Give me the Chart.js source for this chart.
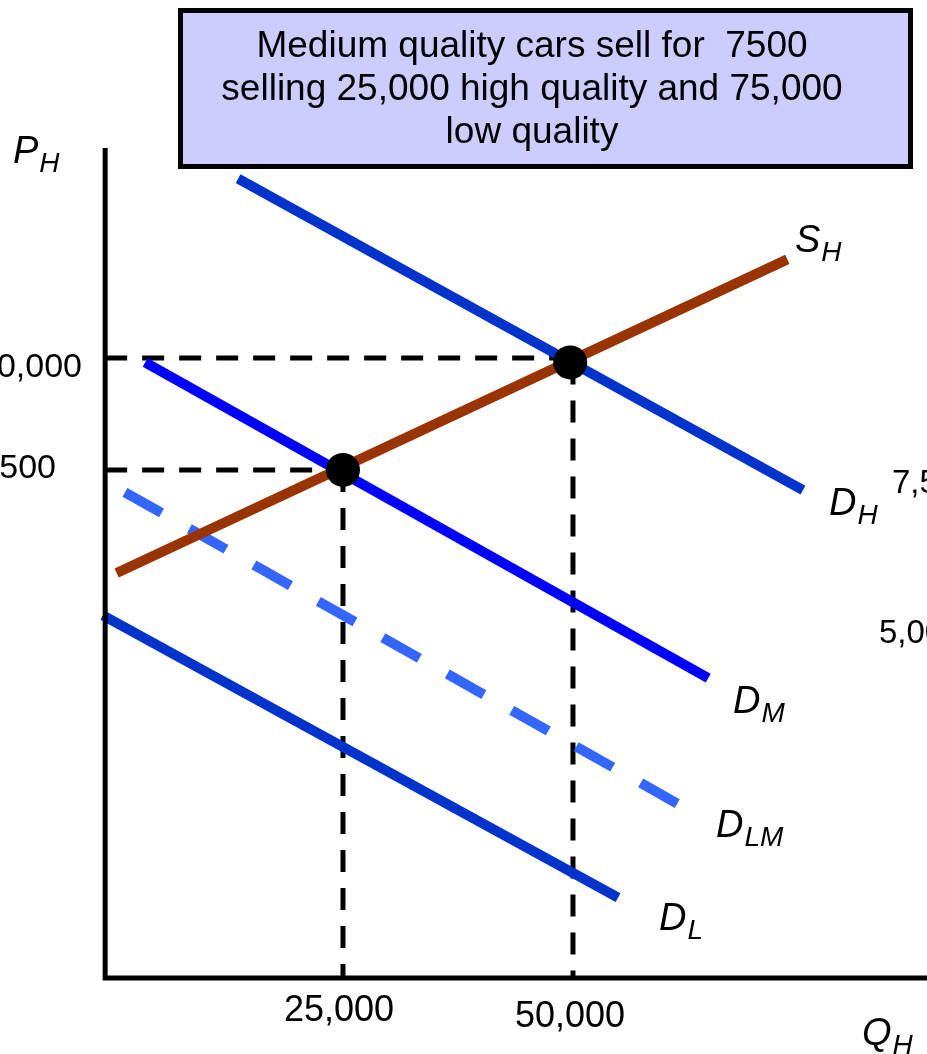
<!DOCTYPE html>
<html lang="en">
<head>
    <meta charset="UTF-8">
    <title>Medium quality cars</title>
    <script src="https://cdn.jsdelivr.net/npm/chart.js"></script>
    <style>
        body { margin: 0; background: #fff; }
    </style>
</head>
<body>
    <canvas id="marketChart" width="927" height="1054"></canvas>

    <script>
        // quantity and price in thousands
        const curveNames = ['D_H', 'S_H', 'D_M', 'D_LM', 'D_L'];
        const curveQ = [
            [13.6, 75.0],   // D_H
            [0.4, 73.3],    // S_H
            [3.5, 64.7],    // D_M
            [1.3, 62.2],    // D_LM
            [-1.1, 54.9]    // D_L
        ];
        const curveP = [
            [14.0, 7.05],
            [5.2, 12.2],
            [9.9, 2.85],
            [7.0, -0.05],
            [4.25, -2.05]
        ];
        const curveColors = ['#0033cc', '#993300', '#0000ff', '#3366ff', '#0033cc'];

        const eqQ = [25, 49.7];
        const eqP = [7.5, 9.9];

        const xTickValues = [25, 50];
        const xTickLabels = ['25,000', '50,000'];
        const yTickValues = [7.5, 10];
        const yTickLabels = ['7,500', '10,000'];

        const titleLines = [
            'Medium quality cars sell for  7500',
            'selling 25,000 high quality and 75,000',
            'low quality'
        ];

        const axisQ = -0.85;   // where the price axis sits
        const axisP = -3.8;    // where the quantity axis sits

        const datasets = [];
        curveNames.forEach((name, i) => {
            datasets.push({
                label: name,
                data: curveQ[i].map((q, j) => ({ x: q, y: curveP[i][j] })),
                showLine: true,
                borderColor: curveColors[i],
                borderWidth: 10,
                borderDash: name === 'D_LM' ? [42, 32] : [],
                pointRadius: 0,
                order: 2
            });
        });
        // dashed guide lines from each equilibrium to the axes
        eqQ.forEach((q, i) => {
            datasets.push({
                label: 'guide' + i,
                data: [{ x: axisQ, y: yTickValues[i] }, { x: q, y: yTickValues[i] }],
                showLine: true, borderColor: '#000', borderWidth: 5,
                borderDash: [22, 15], pointRadius: 0, order: 3
            });
            datasets.push({
                label: 'guideV' + i,
                data: [{ x: xTickValues[i], y: eqP[i] }, { x: xTickValues[i], y: axisP }],
                showLine: true, borderColor: '#000', borderWidth: 5,
                borderDash: [22, 16], pointRadius: 0, order: 3
            });
        });
        datasets.push({
            label: 'equilibria',
            data: eqQ.map((q, i) => ({ x: q, y: eqP[i] })),
            showLine: false,
            pointRadius: 17,
            pointBackgroundColor: '#000',
            pointBorderWidth: 0,
            order: 0
        });

        function subLabel(ctx, x, y, main, sub) {
            ctx.font = 'italic 38px "Liberation Sans", Arial, sans-serif';
            ctx.textAlign = 'left';
            ctx.textBaseline = 'alphabetic';
            ctx.fillStyle = '#000';
            ctx.fillText(main, x, y);
            const w = ctx.measureText(main).width;
            ctx.font = 'italic 28px "Liberation Sans", Arial, sans-serif';
            ctx.fillText(sub, x + w + 1, y + 9);
        }

        const decorations = {
            id: 'decorations',
            afterDraw(chart) {
                const ctx = chart.ctx;
                const xs = chart.scales.x, ys = chart.scales.y;
                const ox = xs.getPixelForValue(axisQ), oy = ys.getPixelForValue(axisP);
                ctx.save();
                // axes
                ctx.strokeStyle = '#000';
                ctx.lineWidth = 5;
                ctx.beginPath();
                ctx.moveTo(ox, 148);
                ctx.lineTo(ox, oy + 2);
                ctx.lineTo(chart.width, oy + 2);
                ctx.stroke();

                // tick labels
                ctx.fillStyle = '#000';
                ctx.font = '36px "Liberation Sans", Arial, sans-serif';
                ctx.textAlign = 'center';
                ctx.textBaseline = 'alphabetic';
                ctx.fillText(xTickLabels[0], xs.getPixelForValue(xTickValues[0]) - 4, oy + 45);
                ctx.fillText(xTickLabels[1], xs.getPixelForValue(xTickValues[1]) - 3, oy + 51);
                ctx.font = '34px "Liberation Sans", Arial, sans-serif';
                ctx.textAlign = 'right';
                ctx.fillText(yTickLabels[1], 82, ys.getPixelForValue(yTickValues[1]) + 19);
                ctx.fillText(yTickLabels[0], 56, ys.getPixelForValue(yTickValues[0]) + 8);

                // fragments of the neighbouring graph
                ctx.font = '33px "Liberation Sans", Arial, sans-serif';
                ctx.textAlign = 'left';
                ctx.fillText('7,500', 892, 493);
                ctx.fillText('5,000', 879, 643);

                // curve labels
                subLabel(ctx, 13, 163, 'P', 'H');
                subLabel(ctx, 795, 252, 'S', 'H');
                subLabel(ctx, 829, 515, 'D', 'H');
                subLabel(ctx, 733, 713, 'D', 'M');
                subLabel(ctx, 716, 837, 'D', 'LM');
                subLabel(ctx, 659, 930, 'D', 'L');
                subLabel(ctx, 862, 1045, 'Q', 'H');

                // title box
                ctx.fillStyle = '#ccccff';
                ctx.fillRect(180.5, 10.5, 730, 156);
                ctx.strokeStyle = '#000';
                ctx.lineWidth = 5;
                ctx.strokeRect(180.5, 10.5, 730, 156);
                ctx.fillStyle = '#000';
                ctx.font = '37px "Liberation Sans", Arial, sans-serif';
                ctx.textAlign = 'center';
                titleLines.forEach((t, i) => ctx.fillText(t, 532, 57 + i * 43));
                ctx.restore();
            }
        };

        new Chart(document.getElementById('marketChart'), {
            type: 'scatter',
            data: { datasets: datasets },
            options: {
                responsive: false,
                animation: false,
                layout: { padding: 0, autoPadding: false },
                plugins: { legend: { display: false }, tooltip: { enabled: false } },
                scales: {
                    x: { type: 'linear', display: false, min: -12.28, max: 88.48 },
                    y: { type: 'linear', display: false, min: -5.54, max: 17.99 }
                }
            },
            plugins: [decorations]
        });
    </script>
</body>
</html>
